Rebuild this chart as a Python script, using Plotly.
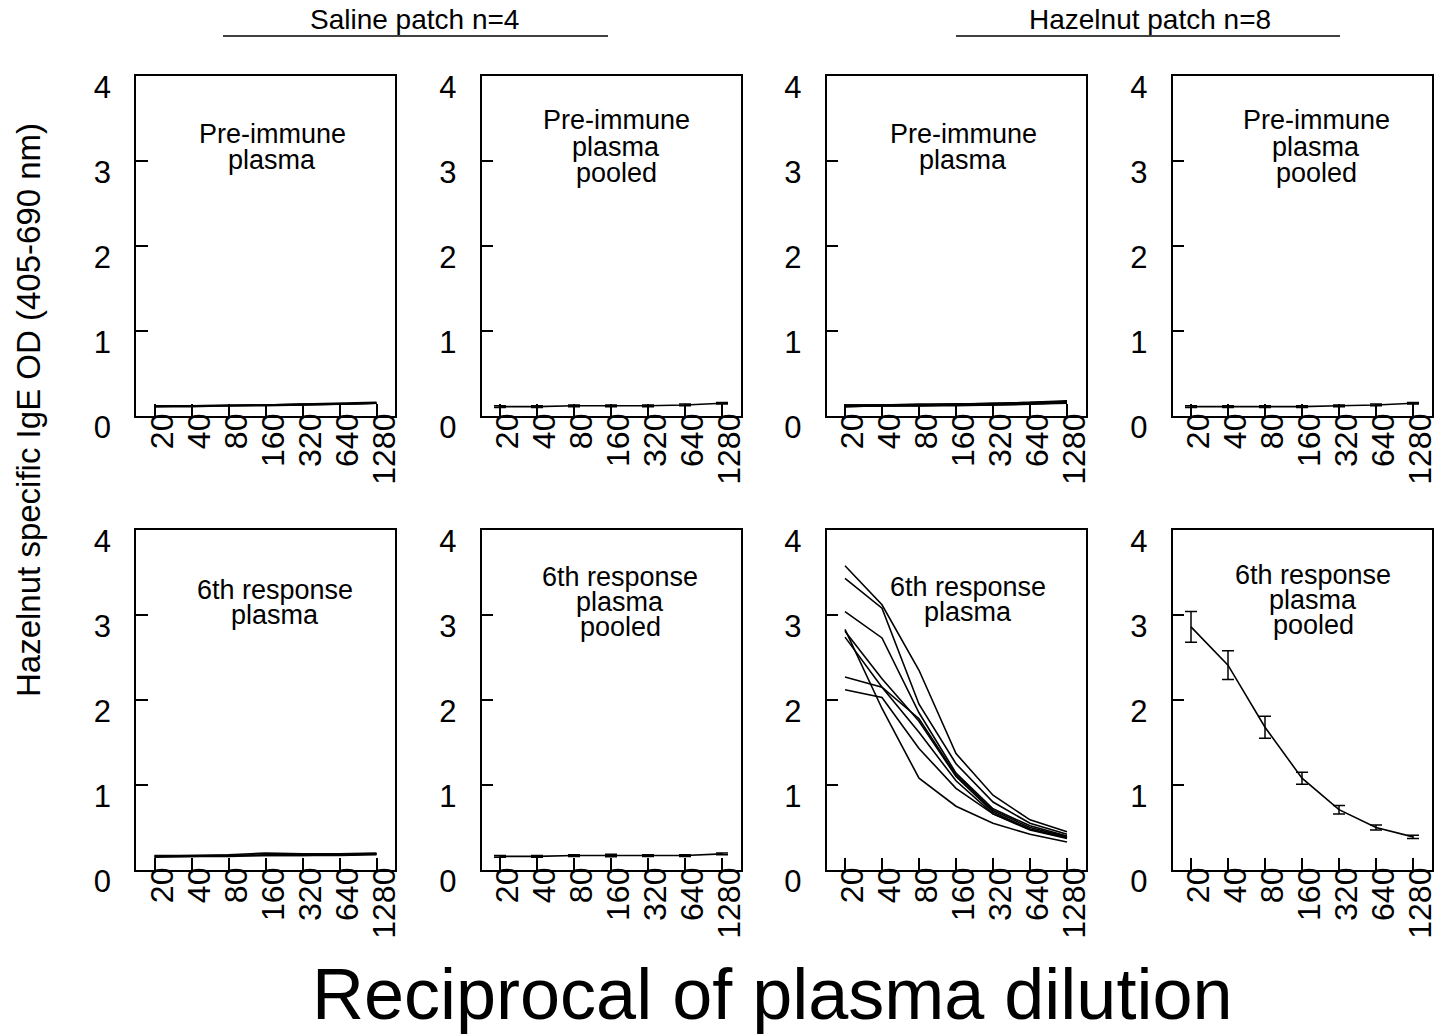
import plotly.graph_objects as go

W, H = 1438, 1036

dilutions = ["20", "40", "80", "160", "320", "640", "1280"]
y_ticks = [0, 1, 2, 3, 4]

# Saline pre-immune plasma (individual, n=4)
saline_pre = [
    [0.12, 0.12, 0.13, 0.13, 0.14, 0.15, 0.16],
    [0.11, 0.12, 0.12, 0.13, 0.14, 0.14, 0.15],
    [0.12, 0.12, 0.12, 0.13, 0.13, 0.14, 0.15],
    [0.11, 0.11, 0.12, 0.12, 0.13, 0.14, 0.15],
]
# Saline pre-immune pooled (mean, sem)
saline_pre_pool_mean = [0.11, 0.11, 0.12, 0.12, 0.12, 0.13, 0.15]
saline_pre_pool_err = [0.01, 0.01, 0.01, 0.01, 0.01, 0.01, 0.01]

# Hazelnut pre-immune plasma (individual, n=8)
hazel_pre = [
    [0.13, 0.13, 0.14, 0.14, 0.15, 0.16, 0.18],
    [0.12, 0.13, 0.13, 0.14, 0.15, 0.16, 0.17],
    [0.13, 0.13, 0.13, 0.14, 0.14, 0.15, 0.17],
    [0.12, 0.12, 0.13, 0.13, 0.14, 0.15, 0.16],
    [0.12, 0.12, 0.13, 0.13, 0.14, 0.15, 0.17],
    [0.11, 0.12, 0.12, 0.13, 0.14, 0.15, 0.16],
    [0.12, 0.12, 0.12, 0.13, 0.13, 0.14, 0.16],
    [0.11, 0.12, 0.12, 0.12, 0.13, 0.14, 0.15],
]
hazel_pre_pool_mean = [0.11, 0.11, 0.11, 0.11, 0.12, 0.13, 0.15]
hazel_pre_pool_err = [0.01, 0.01, 0.01, 0.01, 0.01, 0.01, 0.01]

# Saline 6th response plasma (individual, n=4)
saline_6th = [
    [0.17, 0.17, 0.18, 0.20, 0.19, 0.19, 0.20],
    [0.16, 0.17, 0.17, 0.18, 0.18, 0.18, 0.19],
    [0.16, 0.16, 0.17, 0.17, 0.17, 0.18, 0.19],
    [0.15, 0.16, 0.16, 0.17, 0.17, 0.17, 0.18],
]
saline_6th_pool_mean = [0.16, 0.16, 0.17, 0.17, 0.17, 0.17, 0.19]
saline_6th_pool_err = [0.01, 0.01, 0.01, 0.015, 0.01, 0.01, 0.01]

# Hazelnut 6th response plasma (individual, n=8)
hazel_6th = [
    [3.58, 3.12, 2.35, 1.37, 0.88, 0.59, 0.45],
    [3.43, 3.08, 1.95, 1.25, 0.80, 0.55, 0.42],
    [3.04, 2.73, 1.85, 1.14, 0.72, 0.52, 0.40],
    [2.83, 1.90, 1.08, 0.75, 0.55, 0.42, 0.33],
    [2.81, 2.25, 1.75, 1.10, 0.68, 0.48, 0.38],
    [2.74, 2.15, 1.62, 1.05, 0.66, 0.47, 0.37],
    [2.27, 2.15, 1.78, 1.12, 0.70, 0.50, 0.39],
    [2.12, 2.03, 1.43, 0.96, 0.66, 0.48, 0.38],
]
hazel_6th_pool_mean = [2.86, 2.41, 1.68, 1.08, 0.71, 0.50, 0.39]
hazel_6th_pool_err = [0.18, 0.17, 0.13, 0.07, 0.05, 0.03, 0.02]

panel_labels = [
    ["Pre-immune", "plasma"],
    ["Pre-immune", "plasma", "pooled"],
    ["Pre-immune", "plasma"],
    ["Pre-immune", "plasma", "pooled"],
    ["6th response", "plasma"],
    ["6th response", "plasma", "pooled"],
    ["6th response", "plasma"],
    ["6th response", "plasma", "pooled"],
]
group_titles = ["Saline patch n=4", "Hazelnut patch n=8"]
y_title = "Hazelnut specific IgE OD (405-690 nm)"
x_title = "Reciprocal of plasma dilution"

# ---- layout geometry (pixels) ----
col_left = [136, 481.5, 826.5, 1172.5]
col_w = 259
row_top = [76, 530]
row_bot = [416, 870]

FONT = "Liberation Sans, Arial, sans-serif"


def px_x(p):
    return p / W


def px_y(p):
    return 1 - p / H


fig = go.Figure()

panels = [
    ("lines", saline_pre, None),
    ("pool", saline_pre_pool_mean, saline_pre_pool_err),
    ("lines", hazel_pre, None),
    ("pool", hazel_pre_pool_mean, hazel_pre_pool_err),
    ("lines", saline_6th, None),
    ("pool", saline_6th_pool_mean, saline_6th_pool_err),
    ("lines", hazel_6th, None),
    ("pool", hazel_6th_pool_mean, hazel_6th_pool_err),
]

line_style = dict(color="black", width=1.6)

for i, (kind, data, err) in enumerate(panels):
    k = i + 1
    xa = "x" if k == 1 else f"x{k}"
    ya = "y" if k == 1 else f"y{k}"
    if kind == "lines":
        for series in data:
            fig.add_trace(go.Scatter(x=dilutions, y=series, mode="lines",
                                     line=line_style, xaxis=xa, yaxis=ya,
                                     showlegend=False, hoverinfo="skip"))
    else:
        fig.add_trace(go.Scatter(x=dilutions, y=data, mode="lines",
                                 line=line_style, xaxis=xa, yaxis=ya,
                                 error_y=dict(type="data", array=err, visible=True,
                                              color="black", thickness=1.5, width=6),
                                 showlegend=False, hoverinfo="skip"))

    r, c = divmod(i, 4)
    dom_x = [px_x(col_left[c]), px_x(col_left[c] + col_w)]
    dom_y = [px_y(row_bot[r]), px_y(row_top[r])]
    xkey = "xaxis" if k == 1 else f"xaxis{k}"
    ykey = "yaxis" if k == 1 else f"yaxis{k}"
    fig.layout[xkey] = dict(
        domain=dom_x, anchor=ya, type="category",
        categoryorder="array", categoryarray=dilutions,
        tickmode="array", tickvals=dilutions, ticktext=dilutions,
        range=[-0.5, 6.5], showline=True, mirror=True, linecolor="black",
        linewidth=1.5, ticks="inside", ticklen=12, tickwidth=1.5,
        tickcolor="black", tickangle=-90, showgrid=False, zeroline=False,
        tickfont=dict(size=32, color="black", family=FONT),
        ticklabelshift=8, ticklabelstandoff=-17, automargin=False,
    )
    fig.layout[ykey] = dict(
        domain=dom_y, anchor=xa, range=[0, 4], tickvals=y_ticks,
        ticktext=[str(v) for v in y_ticks],
        showline=True, mirror=True, linecolor="black", linewidth=1.5,
        ticks="inside", ticklen=12, tickwidth=1.5, tickcolor="black",
        showgrid=False, zeroline=False,
        tickfont=dict(size=31, color="black", family=FONT),
        ticklabelshift=11, ticklabelstandoff=17, automargin=False,
    )

# Panel text labels
label_pos = [
    (272, [134, 160]),
    (616, [120, 147, 173]),
    (963, [134, 160]),
    (1316, [120, 147, 173]),
    (275, [590, 615]),
    (620, [577, 602, 627]),
    (968, [587, 612]),
    (1313, [575, 600, 625]),
]
annotations = []
for lines, (cx, ys) in zip(panel_labels, label_pos):
    for txt, yy in zip(lines, ys):
        annotations.append(dict(text=txt, x=px_x(cx), y=px_y(yy), xref="paper",
                                yref="paper", showarrow=False, xanchor="center",
                                yanchor="middle",
                                font=dict(size=27, color="black", family=FONT)))

# Group titles
for txt, cx in zip(group_titles, [415, 1150]):
    annotations.append(dict(text=txt, x=px_x(cx), y=px_y(19), xref="paper",
                            yref="paper", showarrow=False, xanchor="center",
                            yanchor="middle",
                            font=dict(size=28, color="black", family=FONT)))

# Axis titles
annotations.append(dict(text=y_title, x=px_x(28), y=px_y(410), xref="paper",
                        yref="paper", showarrow=False, textangle=-90,
                        xanchor="center", yanchor="middle",
                        font=dict(size=33, color="black", family=FONT)))
annotations.append(dict(text=x_title, x=px_x(772), y=px_y(994), xref="paper",
                        yref="paper", showarrow=False, xanchor="center",
                        yanchor="middle",
                        font=dict(size=72, color="black", family=FONT)))

shapes = []
for x0, x1 in [(223, 608), (956, 1340)]:
    shapes.append(dict(type="line", xref="paper", yref="paper",
                       x0=px_x(x0), x1=px_x(x1), y0=px_y(36), y1=px_y(36),
                       line=dict(color="black", width=1.5)))

fig.update_layout(
    width=W, height=H,
    margin=dict(l=0, r=0, t=0, b=0, pad=0, autoexpand=False),
    paper_bgcolor="white", plot_bgcolor="white",
    annotations=annotations, shapes=shapes, showlegend=False,
    font=dict(family=FONT, color="black"),
)

fig.write_html("out.html")
